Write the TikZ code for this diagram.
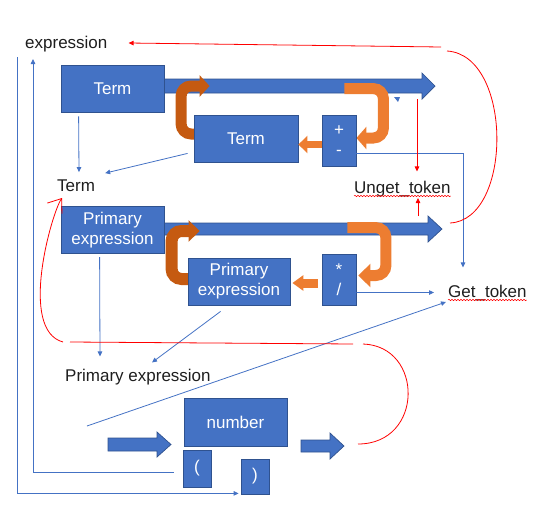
\documentclass[tikz,border=0pt]{standalone}
\usepackage{fontspec}
\setmainfont{Liberation Sans}
\usepackage{tikz}
\usetikzlibrary{positioning,arrows.meta,calc,backgrounds,decorations.pathmorphing}
\definecolor{pblue}{HTML}{4472C4}
\definecolor{pedge}{HTML}{2F528F}
\definecolor{porng}{HTML}{ED7D31}
\definecolor{pdark}{HTML}{C55A11}
\definecolor{pred}{HTML}{FF0000}
\definecolor{ptxt}{HTML}{1E1E1E}
\newcommand{\pfont}{\fontsize{17}{20}\selectfont}
% from x, tip x, mid y, half shaft, half head, head length
\newcommand{\fatarrow}[6]{%
  \filldraw[fat] (#1,#3-#4) -- (#2-#6,#3-#4) -- (#2-#6,#3-#5) -- (#2,#3)
    -- (#2-#6,#3+#5) -- (#2-#6,#3+#4) -- (#1,#3+#4) -- cycle;}
\tikzset{
  blk/.style   ={draw=pedge, fill=pblue, line width=0.8pt, text=white, font=\pfont,
                 align=center, inner sep=0pt},
  lbl/.style   ={font=\pfont, text=ptxt, inner sep=0pt, anchor=base west},
  fat/.style   ={draw=pedge, fill=pblue, line width=0.7pt},
  uturn/.style ={line width=11pt, rounded corners=10pt},
  link/.style  ={-{Triangle[length=5pt,width=4.5pt]}, draw=pblue, line width=0.8pt},
  redline/.style={draw=pred, line width=0.8pt},
  redarr/.style={redline, -{Triangle[length=5pt,width=4.5pt]}},
  squig/.style ={draw=pred, line width=0.5pt, decorate,
                 decoration={snake, segment length=3pt, amplitude=0.7pt}},
}

\begin{document}
\begin{tikzpicture}[x=1pt, y=-1pt]
  \useasboundingbox (0,0) rectangle (554,514);
  % term row
  \node[blk, minimum width=103pt, minimum height=47pt] (term1) at (112.5,88.5) {Term};
  \node[blk, minimum width=104pt, minimum height=47pt] (term2) at (246,138.5) {Term};
  \node[blk, minimum width=34pt, minimum height=51pt] (addop) at (339,141) {+\\-};
  % primary row
  \node[blk, below=94pt of term1, minimum width=103pt, minimum height=47pt] (prim1) {Primary\\expression};
  \node[blk, minimum width=102pt, minimum height=47pt] (prim2) at (239,281.5) {Primary\\expression};
  \node[blk, minimum width=34pt, minimum height=51pt] (mulop) at (339,279.5) {*\\/};
  % number row
  \node[blk, minimum width=103pt, minimum height=48pt] (num) at (235.5,422) {number};
  \node[blk, minimum width=28pt, minimum height=37pt] (lpar) at (197,468.5) {(};
  \node[blk, minimum width=28pt, minimum height=35pt] (rpar) at (255,476.5) {)};
  % labels
  \node[lbl] (expr) at (25,48) {expression};
  \node[lbl] (termlbl) at (57,191) {Term};
  \node[lbl] (unget) at (354,193) {Unget\_token};
  \node[lbl] (get) at (448,297) {Get\_token};
  \node[lbl] (primlbl) at (65,381) {Primary expression};
  \draw[squig] ($(unget.base west)+(0,3)$) -- ($(unget.base east)+(0,3)$);
  \draw[squig] ($(get.base west)+(0,3)$) -- ($(get.base east)+(0,3)$);

  \coordinate (tip1) at (435,86);
  \coordinate (tip2) at (442,229);
  \coordinate (tip4) at (344,446);
  \begin{scope}[on background layer]
    \fatarrow{164}{435}{86}{7}{13}{13}
    \fatarrow{164}{442}{229}{6}{13}{14}
    \fatarrow{108}{171}{444.5}{6.5}{12.5}{14}
    \fatarrow{301}{344}{446}{6}{13}{14}
    % loops
    \draw[uturn, pdark, -{Triangle[length=10pt,width=21pt]}]
      ($(term2.west)+(6,-4.5)$) -- ++(-18.5,0) -- ++(0,-48) -- ++(28.5,0);
    \draw[uturn, porng, -{Triangle[length=10pt,width=22pt]}]
      ($(addop.north east)+(-12,-26.5)$) -- ++(39,0) |- ($(addop.east)+(0,-3)$);
    \draw[uturn, pdark, line width=12pt, -{Triangle[length=11pt,width=21pt]}]
      ($(prim2.west)+(6,-2.5)$) -- ++(-22,0) -- ++(0,-48) -- ++(28,0);
    \draw[uturn, porng, -{Triangle[length=12pt,width=23pt]}]
      ($(mulop.north east)+(-9,-26)$) -- ++(38.5,0) |- ($(mulop.east)+(2,-4)$);
  \end{scope}
  \draw[porng, line width=7pt, -{Triangle[length=9pt,width=17pt]}]
    ($(addop.west)+(0,3.5)$) -- ($(term2.east)+(0,6)$);
  \draw[porng, line width=9pt, -{Triangle[length=11pt,width=15pt]}]
    ($(mulop.west)+(-4,3.5)$) -- ($(prim2.east)+(2,1.5)$);

  % flows
  \draw[link] ($(term1.south west)+(18,4)$) -- ($(termlbl.north west)+(22,-7)$);
  \draw[link] ($(term2.south west)+(-6,-9)$) -- ($(termlbl.north east)+(10,-6)$);
  \draw[link] ($(addop.south east)+(0,-14)$) -| ($(get.north west)+(15,-17)$);
  \draw[link] ($(mulop.south east)+(0,-13)$) -- ($(get.west)+(-14,0)$);
  \draw[link] ($(prim1.south west)+(39,3)$) -- ($(primlbl.north west)+(35,-12)$);
  \draw[link] ($(prim2.south west)+(33,6)$) -- ($(primlbl.north west)+(87,-6)$);
  \coordinate (gstart) at (87,426);
  \draw[link] (gstart) -- ($(get.base west)+(-2,5)$);
  \coordinate (hstart) at (17,57);
  \draw[link] (hstart) |- ($(rpar.south west)+(-2,-1)$);
  \draw[link] ($(lpar.west)+(-9,3.5)$) -| ($(expr.base west)+(8,11)$);
  \fill[pblue] (394,97) -- (400,97) -- (398,102) -- cycle;

  % back paths
  \coordinate (rtop) at (441,47);
  \coordinate (rl1) at (70,342);
  \coordinate (rl2) at (353,344);
  \draw[redarr] (rtop) -- ($(expr.base east)+(21,-5)$);
  \draw[redline] ($(rtop)+(6,4)$) .. controls +(66,4) and +(63,-3) .. ($(tip2)+(8,-6)$);
  \draw[redarr] ($(tip1)+(-18,13)$) -- ($(unget.north west)+(63,-9)$);
  \draw[redarr] ($(tip2)+(-24,-13)$) -- ($(unget.base west)+(64,5)$);
  \draw[redline] (rl1) -- (rl2);
  \draw[redline, -{Straight Barb[length=12pt,width=18pt]}]
    ($(rl1)+(-7,0)$) .. controls +(-45,-12) and +(-10,14) .. ($(termlbl.base west)+(5,7)$);
  \draw[redline] ($(rl2)+(10,0)$) .. controls +(61,2) and +(66,0) .. ($(tip4)+(14,-2)$);
\end{tikzpicture}
\end{document}
